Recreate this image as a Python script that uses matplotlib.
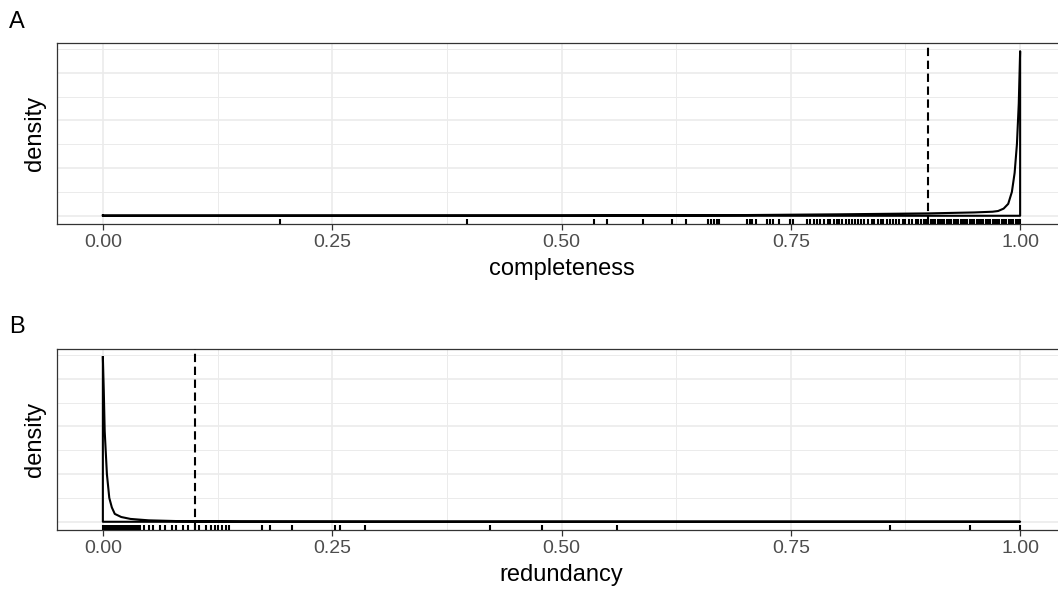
import matplotlib
matplotlib.use('Agg')
import matplotlib.pyplot as plt
import numpy as np

plt.rcParams['font.family'] = ['Liberation Sans', 'DejaVu Sans']

# density curves (y in arbitrary units, grid every 10)
compl_x = [0.0, 0.5, 0.7, 0.8, 0.9, 0.95, 0.97, 0.976, 0.982, 0.987, 0.991, 0.994, 0.9965, 0.9985, 1.0]
compl_y = [0.1, 0.15, 0.3, 0.6, 1.0, 1.4, 1.7, 2.0, 3.0, 5.0, 10.0, 18.0, 30.0, 47.0, 69.0]

redund_x = [0.0, 0.001, 0.002, 0.0044, 0.007, 0.0098, 0.013, 0.02, 0.03, 0.05, 0.08, 0.15, 0.3, 1.0]
redund_y = [69.0, 55.0, 38.0, 20.0, 10.0, 6.0, 3.3, 2.0, 1.2, 0.6, 0.3, 0.15, 0.1, 0.05]

# rug values
compl_rug = [0.193, 0.397, 0.535, 0.55, 0.589, 0.62, 0.636, 0.66, 0.663, 0.666, 0.669, 0.672,
             0.702, 0.705, 0.708, 0.712, 0.724, 0.727, 0.731, 0.737, 0.749, 0.752,
             0.768, 0.771, 0.775, 0.779, 0.782, 0.786, 0.79, 0.793, 0.797, 0.80, 0.803,
             0.806, 0.81, 0.813, 0.817, 0.82, 0.823, 0.826, 0.83, 0.834, 0.838, 0.841,
             0.845, 0.848, 0.851, 0.855, 0.858, 0.861, 0.865, 0.868, 0.872, 0.875, 0.879,
             0.882, 0.886, 0.889, 0.892, 0.895, 0.8975, 0.9, 0.9025, 0.905, 0.9075,
             0.91, 0.9125, 0.915, 0.9175, 0.92, 0.9225, 0.925, 0.9275, 0.93, 0.9325, 0.935,
             0.9375, 0.94, 0.9425, 0.945, 0.9475, 0.95, 0.9525, 0.955, 0.9575, 0.96, 0.9625,
             0.965, 0.9675, 0.97, 0.9725, 0.975, 0.9775, 0.98, 0.9825, 0.985, 0.9875, 0.99,
             0.9925, 0.995, 0.9975, 1.0]
redund_rug = [0.0, 0.002, 0.004, 0.006, 0.008, 0.01, 0.012, 0.014, 0.016, 0.018, 0.02, 0.022,
              0.024, 0.026, 0.028, 0.03, 0.032, 0.034, 0.036, 0.038, 0.04, 0.045, 0.05, 0.055,
              0.062, 0.068, 0.075, 0.08, 0.087, 0.093, 0.1, 0.105, 0.112, 0.118, 0.122, 0.126,
              0.13, 0.134, 0.138, 0.173, 0.182, 0.206, 0.253, 0.258, 0.286, 0.422, 0.479,
              0.561, 0.858, 0.945, 1.0]

cutoffs = [0.9, 0.1]
xlabels = ['completeness', 'redundancy']
panel_tags = ['A', 'B']

W, H = 1058, 593
fig = plt.figure(figsize=(W / 100, H / 100), dpi=100)

# axes boxes in pixels: left, top, right, bottom
boxes = [(57, 43, 1066, 224), (57, 349, 1066, 530)]
tag_y = [22, 327]

panels = [(compl_x, compl_y, compl_rug), (redund_x, redund_y, redund_rug)]

for i, (dx, dy, rug) in enumerate(panels):
    l, t, r, b = boxes[i]
    ax = fig.add_axes([l / W, 1 - b / H, (r - l) / W, (b - t) / H])
    ax.set_xlim(-0.05, 1.05)
    peak = max(dy)
    ax.set_ylim(-0.05 * peak, 1.05 * peak)

    ax.set_xticks([0, 0.25, 0.5, 0.75, 1.0])
    ax.set_xticklabels(['0.00', '0.25', '0.50', '0.75', '1.00'])
    ax.set_xticks([0.125, 0.375, 0.625, 0.875], minor=True)
    ax.set_yticks([0, 20, 40, 60])
    ax.set_yticks([10, 30, 50, 70], minor=True)
    ax.grid(True, which='major', color='#EBEBEB', lw=1.2, zorder=0)
    ax.grid(True, which='minor', color='#EBEBEB', lw=0.7, zorder=0)
    ax.set_axisbelow(True)
    ax.tick_params(axis='y', which='both', left=False, labelleft=False)
    ax.tick_params(axis='x', which='minor', bottom=False)
    ax.tick_params(axis='x', which='major', length=4, width=0.9, color='#333333',
                   labelsize=14, labelcolor='#4D4D4D', pad=3)
    for s in ax.spines.values():
        s.set_color('#333333')
        s.set_linewidth(0.9)

    # density outline drawn as a closed polygon
    px = list(dx) + [dx[-1], dx[0], dx[0]]
    py = list(dy) + [0, 0, dy[0]]
    ax.plot(px, py, color='black', lw=1.5, solid_joinstyle='round', zorder=3)

    ax.vlines(rug, 0, 0.03, transform=ax.get_xaxis_transform(), color='black', lw=1.5, zorder=4)
    ax.axvline(cutoffs[i], color='black', lw=1.5, ls=(0, (4, 2.2)), zorder=3)

    ax.set_xlabel(xlabels[i], fontsize=17, labelpad=5)
    ax.set_ylabel('density', fontsize=17, labelpad=8)

    fig.text(9 / W, 1 - tag_y[i] / H, panel_tags[i], fontsize=17, va='center', ha='left')

fig.savefig('out.png', dpi=100)
